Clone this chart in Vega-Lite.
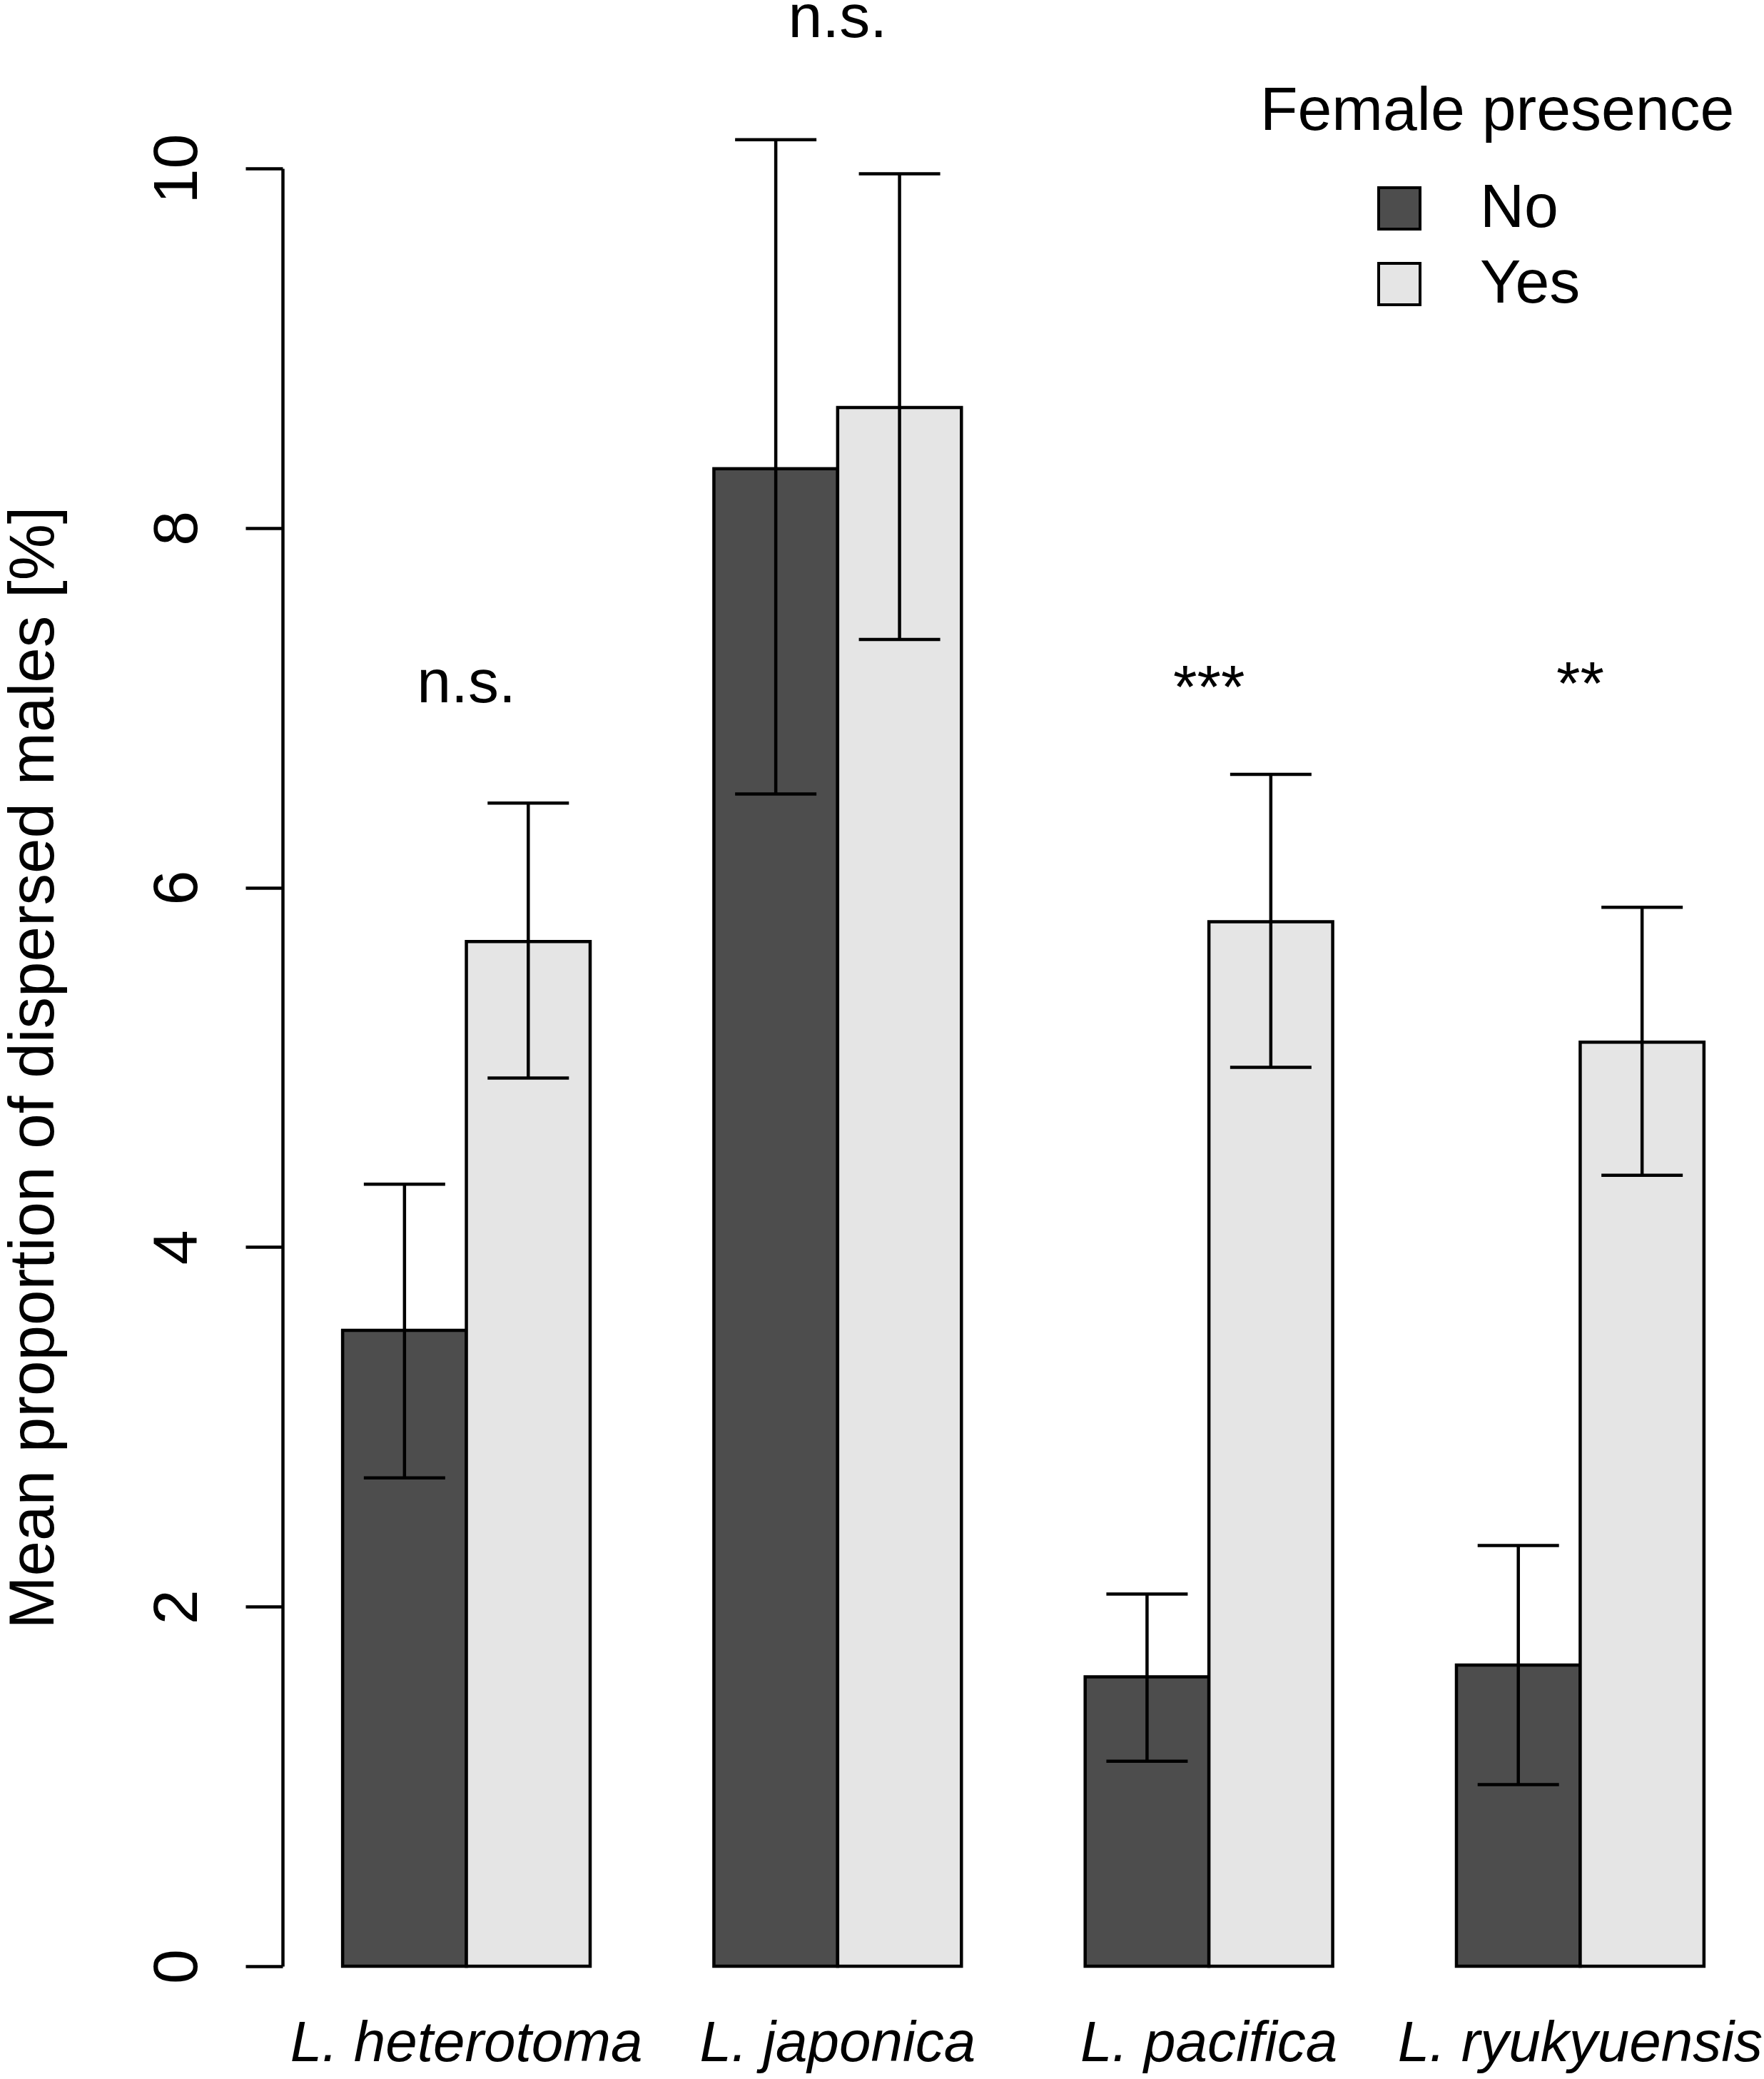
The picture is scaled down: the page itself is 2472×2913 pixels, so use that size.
{
  "$schema": "https://vega.github.io/schema/vega-lite/v6.json",
  "width": 2076,
  "height": 2519,
  "autosize": {"type": "none"},
  "padding": {"left": 396, "top": 236, "right": 0, "bottom": 158},
  "background": "white",
  "datasets": {
    "means": [
      {"species": "L. heterotoma", "presence": "No", "mean": 3.537, "lower": 2.716, "upper": 4.35},
      {"species": "L. heterotoma", "presence": "Yes", "mean": 5.70, "lower": 4.94, "upper": 6.47},
      {"species": "L. japonica", "presence": "No", "mean": 8.33, "lower": 6.52, "upper": 10.16},
      {"species": "L. japonica", "presence": "Yes", "mean": 8.67, "lower": 7.38, "upper": 9.97},
      {"species": "L. pacifica", "presence": "No", "mean": 1.61, "lower": 1.14, "upper": 2.07},
      {"species": "L. pacifica", "presence": "Yes", "mean": 5.81, "lower": 5.00, "upper": 6.63},
      {"species": "L. ryukyuensis", "presence": "No", "mean": 1.675, "lower": 1.01, "upper": 2.34},
      {"species": "L. ryukyuensis", "presence": "Yes", "mean": 5.14, "lower": 4.40, "upper": 5.89}
    ],
    "signif": [
      {"species": "L. heterotoma", "label": "n.s.", "pos": 7.03},
      {"species": "L. japonica", "label": "n.s.", "pos": 10.73},
      {"species": "L. pacifica", "label": "***", "pos": 7.0},
      {"species": "L. ryukyuensis", "label": "**", "pos": 7.02}
    ]
  },
  "encoding": {
    "x": {
      "field": "species",
      "type": "nominal",
      "sort": ["L. heterotoma", "L. japonica", "L. pacifica", "L. ryukyuensis"],
      "scale": {"paddingInner": 0.3333, "paddingOuter": 0.1617},
      "axis": {
        "title": null,
        "domain": false,
        "ticks": false,
        "tickSize": 0,
        "labelAngle": 0,
        "labelFont": "Liberation Sans",
        "labelFontStyle": "italic",
        "labelFontSize": 80,
        "labelColor": "black",
        "labelPadding": 69,
        "labelLimit": 0,
        "labelOverlap": false
      }
    }
  },
  "layer": [
    {
      "data": {"name": "means"},
      "mark": {"type": "bar", "stroke": "black", "strokeWidth": 4.5},
      "encoding": {
        "xOffset": {"field": "presence", "type": "nominal", "scale": {"paddingInner": 0, "paddingOuter": 0}},
        "y": {
          "field": "mean",
          "type": "quantitative",
          "scale": {"domain": [0, 10], "nice": false},
          "axis": {
            "values": [0, 2, 4, 6, 8, 10],
            "format": "d",
            "grid": false,
            "domainColor": "black",
            "domainWidth": 4.5,
            "tickColor": "black",
            "tickWidth": 4.5,
            "tickSize": 52,
            "labelAngle": -90,
            "labelAlign": "center",
            "labelBaseline": "bottom",
            "labelFont": "Liberation Sans",
            "labelFontSize": 88,
            "labelColor": "black",
            "labelPadding": 51,
            "title": "Mean proportion of dispersed males [%]",
            "titleFont": "Liberation Sans",
            "titleFontSize": 89,
            "titleFontWeight": "normal",
            "titleColor": "black",
            "titlePadding": 112
          }
        },
        "fill": {
          "field": "presence",
          "type": "nominal",
          "scale": {"domain": ["No", "Yes"], "range": ["#4d4d4d", "#e5e5e5"]},
          "legend": {
            "orient": "none",
            "legendX": 1370,
            "legendY": -122,
            "title": "Female presence",
            "titleFont": "Liberation Sans",
            "titleFontSize": 86,
            "titleFontWeight": "normal",
            "titleColor": "black",
            "titleLimit": 0,
            "titlePadding": 49,
            "padding": 0,
            "symbolType": "square",
            "symbolSize": 3364,
            "symbolStrokeColor": "black",
            "symbolStrokeWidth": 4,
            "symbolOpacity": 1,
            "symbolOffset": 152,
            "labelOffset": 70,
            "labelFont": "Liberation Sans",
            "labelFontSize": 86,
            "labelColor": "black",
            "labelLimit": 0,
            "rowPadding": 20
          }
        }
      }
    },
    {
      "data": {"name": "means"},
      "mark": {"type": "rule", "color": "black", "strokeWidth": 4.5},
      "encoding": {
        "xOffset": {"field": "presence", "type": "nominal"},
        "y": {"field": "lower", "type": "quantitative"},
        "y2": {"field": "upper"}
      }
    },
    {
      "data": {"name": "means"},
      "mark": {"type": "tick", "color": "black", "thickness": 4.5, "size": 114, "opacity": 1},
      "encoding": {
        "xOffset": {"field": "presence", "type": "nominal"},
        "y": {"field": "lower", "type": "quantitative"}
      }
    },
    {
      "data": {"name": "means"},
      "mark": {"type": "tick", "color": "black", "thickness": 4.5, "size": 114, "opacity": 1},
      "encoding": {
        "xOffset": {"field": "presence", "type": "nominal"},
        "y": {"field": "upper", "type": "quantitative"}
      }
    },
    {
      "data": {"name": "signif"},
      "mark": {"type": "text", "font": "Liberation Sans", "fontSize": 86, "baseline": "alphabetic", "align": "center", "color": "black"},
      "encoding": {
        "y": {"field": "pos", "type": "quantitative"},
        "text": {"field": "label"}
      }
    }
  ],
  "config": {
    "view": {"stroke": null},
    "font": "Liberation Sans"
  }
}
